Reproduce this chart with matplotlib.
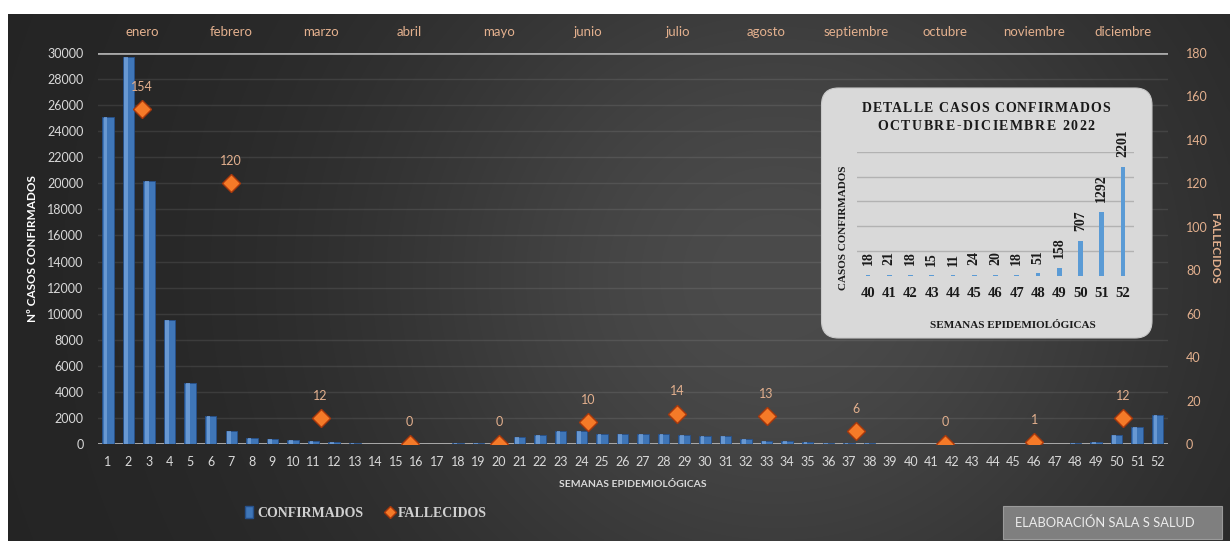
import numpy as np
import matplotlib
matplotlib.use("Agg")
import matplotlib.pyplot as plt
from matplotlib.patches import FancyBboxPatch, Rectangle, Patch
from matplotlib.lines import Line2D
from matplotlib.font_manager import FontProperties

# ---------------------------------------------------------------- data
weeks = list(range(1, 53))
confirmados = [25100, 29700, 20200, 9500, 4700, 2150, 1000, 490, 380, 310,
               200, 130, 50, 35, 30, 30, 30, 40, 80, 60,
               560, 690, 1000, 1000, 770, 770, 770, 770, 690, 600,
               580, 360, 200, 230, 170, 100, 60, 40, 30, 18,
               21, 18, 15, 11, 24, 20, 18, 51, 158, 707,
               1292, 2201]
months = ["enero", "febrero", "marzo", "abril", "mayo", "junio", "julio",
          "agosto", "septiembre", "octubre", "noviembre", "diciembre"]
fallecidos = [154, 120, 12, 0, 0, 10, 14, 13, 6, 0, 1, 12]
left_ticks = list(range(0, 30001, 2000))
right_ticks = list(range(0, 181, 20))
detail_weeks = weeks[39:]
detail_values = confirmados[39:]
detail_grid = [500, 1000, 1500, 2000, 2500]

# ---------------------------------------------------------------- style
W, H = 1230, 541
SANS = "Lato"
SERIF = "Liberation Serif"
TAN = "#e3b08e"
LIGHT = "#d9d9d9"
BLUE = "#3f76b8"

fig = plt.figure(figsize=(W / 100, H / 100), dpi=100, facecolor="white")


def px_rect(x0, y0, x1, y1):
    """Pixel box (origin top-left) -> figure-fraction rect."""
    return [x0 / W, 1 - y1 / H, (x1 - x0) / W, (y1 - y0) / H]


def fx(x):
    return x / W


def fy(y):
    return 1 - y / H


# dark shaded panel
bg = fig.add_axes(px_rect(8, 14, W, H), zorder=0)
bg.set_axis_off()
gx, gy = np.meshgrid(np.linspace(0, 1, 500), np.linspace(0, 1, 250))
shade = 0x24 + 0x27 * np.exp(-((gx - 0.63) / 0.34) ** 2 - ((gy - 0.5) / 0.75) ** 2)
bg.imshow(np.dstack([shade] * 3) / 255.0, aspect="auto", extent=[0, 1, 0, 1],
          origin="lower", interpolation="bilinear")
bg.set_xlim(0, 1)
bg.set_ylim(0, 1)

# ---------------------------------------------------------------- main chart
rect = px_rect(97.5, 53, 1168, 444)
ax = fig.add_axes(rect, zorder=2)
ax.patch.set_alpha(0)
ax.bar(weeks, confirmados, width=0.56, color=BLUE, edgecolor="#26508a",
       linewidth=0.6, zorder=3)
ax.bar(np.array(weeks) - 0.11, confirmados, width=0.18, color="#7aa7de",
       linewidth=0, alpha=0.7, zorder=4)
ax.set_xlim(0.5, 52.5)
ax.set_ylim(0, 30000)
ax.set_yticks(left_ticks)
ax.set_xticks(weeks)
ax.set_yticklabels([str(v) for v in left_ticks], fontsize=9, family=SANS, color=LIGHT)
ax.set_xticklabels([str(w) for w in weeks], fontsize=9, family=SANS, color=LIGHT)
ax.tick_params(axis="both", length=0)
ax.tick_params(axis="x", pad=9)
ax.tick_params(axis="y", pad=10)
for s in ax.spines.values():
    s.set_visible(False)
ax.grid(axis="y", color="white", alpha=0.09, linewidth=1)
ax.set_axisbelow(True)
ax.axhline(0, color="#b4b4b4", linewidth=2, zorder=2)
ax.axhline(30000, color="#a8a8a8", linewidth=2, zorder=2)
ax.set_ylabel("Nº CASOS CONFIRMADOS", family=SANS, fontweight="bold",
              fontsize=8.5, color="white", labelpad=7)
ax.set_xlabel("SEMANAS EPIDEMIOLÓGICAS", family=SANS, fontweight="bold",
              fontsize=7.5, color=LIGHT, labelpad=8)

# deaths per month on the secondary axes
ax2 = fig.add_axes(rect, zorder=3)
ax2.patch.set_alpha(0)
for s in ax2.spines.values():
    s.set_visible(False)
ax2.set_xlim(-0.5, 11.5)
ax2.set_ylim(0, 180)
ax2.xaxis.tick_top()
ax2.yaxis.tick_right()
ax2.yaxis.set_label_position("right")
ax2.set_xticks(range(len(months)))
ax2.set_xticklabels(months, fontsize=9.5, family=SANS, color=TAN)
ax2.set_yticks(right_ticks)
ax2.set_yticklabels([str(v) for v in right_ticks], fontsize=9, family=SANS, color=TAN)
ax2.tick_params(axis="both", length=0)
ax2.tick_params(axis="x", pad=11)
ax2.tick_params(axis="y", pad=13)
ax2.plot(range(len(months)), fallecidos, linestyle="none", marker="D",
         markersize=9, markerfacecolor="#f57a28", markeredgecolor="#a8380c",
         markeredgewidth=1, zorder=5)
for i, v in enumerate(fallecidos):
    ax2.annotate(str(v), (i, v), xytext=(0, 16), textcoords="offset points",
                 ha="center", va="center", fontsize=9, family=SANS, color=TAN)
ax2.set_ylabel("FALLECIDOS", family=SANS, fontweight="bold", fontsize=8.5,
               color=TAN, rotation=270, labelpad=9)

# ---------------------------------------------------------------- detail box
box = FancyBboxPatch(((821.5) / 100, (H - 338) / 100), (1152 - 821.5) / 100,
                     (338 - 88) / 100, boxstyle="round,pad=0,rounding_size=0.17",
                     transform=fig.dpi_scale_trans, facecolor="#d9d9d9",
                     edgecolor="#c8c8c8", linewidth=0.8, zorder=6)
fig.patches.append(box)

axi = fig.add_axes(px_rect(857.4, 151.7, 1133.6, 276), zorder=7)
axi.patch.set_alpha(0)
for s in axi.spines.values():
    s.set_visible(False)
axi.bar(detail_weeks, detail_values, width=0.22, color="#5b9bd5", zorder=3)
axi.set_xlim(39.5, 52.5)
axi.set_ylim(0, 2500)
axi.set_yticks(detail_grid)
axi.set_yticklabels([])
axi.grid(axis="y", color="#b2b2b2", linewidth=1)
axi.set_axisbelow(True)
axi.set_xticks(detail_weeks)
axi.set_xticklabels([str(w) for w in detail_weeks], family=SERIF,
                    fontweight="bold", fontsize=10.5, color="#1a1a1a")
axi.tick_params(axis="both", length=0)
axi.tick_params(axis="x", pad=8)
for w, v in zip(detail_weeks, detail_values):
    axi.annotate(str(v), (w, v), xytext=(0, 7), textcoords="offset points",
                 rotation=90, ha="center", va="bottom", family=SERIF,
                 fontweight="bold", fontsize=10, color="#1a1a1a")

fig.text(fx(843), fy(228), "CASOS CONFIRMADOS", rotation=90, ha="center",
         va="center", family=SERIF, fontweight="bold", fontsize=8,
         color="#1a1a1a", zorder=8)
fig.text(fx(1013), fy(325), "SEMANAS EPIDEMIOLÓGICAS", ha="center",
         va="center", family=SERIF, fontweight="bold", fontsize=8,
         color="#1a1a1a", zorder=8)


def tracked_text(cx, cy, s, target_w, fp, color):
    r = fig.canvas.get_renderer()

    def width(t):
        return r.get_text_width_height_descent(t, fp, ismath=False)[0]

    track = (target_w - width(s)) / (len(s) - 1)
    x0 = cx - target_w / 2
    for i, ch in enumerate(s):
        if ch == " ":
            continue
        left = width(s[:i + 1]) - width(ch) + i * track
        fig.text(fx(x0 + left), fy(cy), ch, ha="left", va="center",
                 fontproperties=fp, color=color, zorder=8)


title_fp = FontProperties(family=SERIF, weight="bold", size=10)
tracked_text(986, 108, "DETALLE CASOS CONFIRMADOS", 248, title_fp, "#1a1a1a")
tracked_text(986, 126, "OCTUBRE-DICIEMBRE 2022", 217, title_fp, "#1a1a1a")

# ---------------------------------------------------------------- legend
handles = [Patch(facecolor=BLUE, edgecolor="#26508a"),
           Line2D([], [], linestyle="none", marker="D", markersize=6,
                  markerfacecolor="#f57a28", markeredgecolor="#a8380c")]
leg = fig.legend(handles, ["CONFIRMADOS", "FALLECIDOS"], ncol=2,
                 loc="center", bbox_to_anchor=(fx(366), fy(513)), frameon=False,
                 handlelength=0.6, handleheight=0.9, handletextpad=0.3,
                 columnspacing=1.6, prop=FontProperties(family=SERIF,
                                                        weight="bold", size=10))
for t in leg.get_texts():
    t.set_color("#d0d0d0")

# ---------------------------------------------------------------- credit box
fig.patches.append(Rectangle((fx(1003), fy(539)), fx(1222) - fx(1003),
                             fy(506) - fy(539), transform=fig.transFigure,
                             facecolor="#7f7f7f", edgecolor="#9a9a9a",
                             linewidth=0.8, zorder=6))
fig.text(fx(1015), fy(523), "ELABORACIÓN SALA S SALUD", ha="left", va="center",
         family=SANS, fontsize=9.3, color="#ececec", zorder=7)

fig.savefig("out.png", dpi=100, facecolor="white")
